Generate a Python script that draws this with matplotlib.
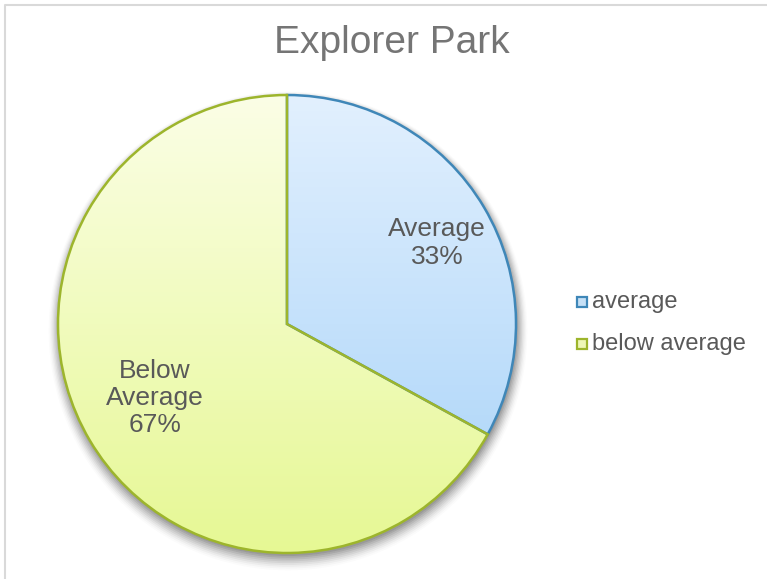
import numpy as np
import matplotlib
matplotlib.use("Agg")
import matplotlib.pyplot as plt
from matplotlib.patches import Rectangle, Circle
from matplotlib.colors import LinearSegmentedColormap

plt.rcParams["font.family"] = ["Liberation Sans", "DejaVu Sans"]

title = "Explorer Park"
categories = ["average", "below average"]
slice_labels = ["Average", "Below\nAverage"]
shares = [33, 67]

W, H = 767, 579
fig = plt.figure(figsize=(W / 100, H / 100), dpi=100)
ax = fig.add_axes([0, 0, 1, 1])

cx, cy, r = 287, H - 324, 229

# soft drop shadow under the pie
for i, a in enumerate(np.linspace(0.09, 0.015, 9)):
    ax.add_patch(Circle((cx + 1, cy - 3 - i * 0.5), r + i * 1.3, facecolor="#000000",
                        edgecolor="none", alpha=a, zorder=1))

wedges, _ = ax.pie(shares, startangle=90, counterclock=False, radius=r,
                   center=(cx, cy), frame=True,
                   wedgeprops=dict(facecolor="none", linewidth=1.8, zorder=3))

edge_cols = ["#3f87b8", "#9db52c"]
grads = [("#e2f0fe", "#a6d2f8"), ("#fbfee6", "#e6f894")]
for w, ec, (c0, c1) in zip(wedges, edge_cols, grads):
    w.set_edgecolor(ec)
    w.set_zorder(3)
    cmap = LinearSegmentedColormap.from_list("g", [c0, c1])
    g = np.linspace(0, 1, 256).reshape(-1, 1)
    im = ax.imshow(g, cmap=cmap, extent=[cx - r, cx + r, cy - r, cy + r],
                   origin="upper", aspect="auto", zorder=2)
    im.set_clip_path(w)

# slice labels
label_pos = [(437, 243), (155, 398)]
for (x, y), lab, v in zip(label_pos, slice_labels, shares):
    ax.text(x, H - y, f"{lab}\n{v}%", ha="center", va="center", fontsize=19,
            color="#595959", linespacing=1.17, zorder=5)

ax.text(392, H - 43, title, ha="center", va="center", fontsize=28, color="#757575")

# legend
leg_fill = ["#c6e0f6", "#eef7b6"]
for i, (cat, fc, ec) in enumerate(zip(categories, leg_fill, edge_cols)):
    y = 302 + i * 42
    ax.add_patch(Rectangle((577, H - y - 5), 10, 10, facecolor=fc, edgecolor=ec,
                           linewidth=1.6, zorder=5))
    ax.text(592, H - y, cat, ha="left", va="center", fontsize=17, color="#595959")

# chart frame
ax.plot([5, 5, W + 5], [-5, H - 5, H - 5], color="#d9d9d9", linewidth=1.5, zorder=0)

ax.set_xlim(0, W)
ax.set_ylim(0, H)
ax.set_aspect("auto")
ax.axis("off")

fig.savefig("out.png", dpi=100, facecolor="white")
